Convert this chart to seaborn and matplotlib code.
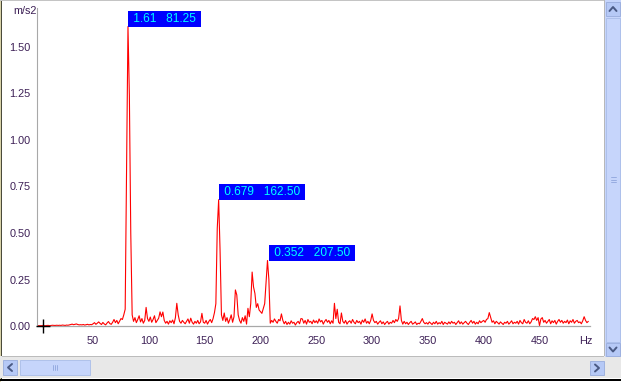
import numpy as np
import matplotlib
matplotlib.use("Agg")
import matplotlib.pyplot as plt
from matplotlib.patches import Rectangle
from matplotlib.lines import Line2D
import seaborn as sns

# spectrum, 1.25 Hz bins starting at 0 Hz (m/s2)
amplitude = [
    0.002, 0.002, 0.002, 0.002, 0.003, 0.002, 0.002, 0.003,
    0.003, 0.002, 0.003, 0.004, 0.003, 0.003, 0.004, 0.003,
    0.004, 0.003, 0.005, 0.004, 0.003, 0.005, 0.004, 0.006,
    0.008, 0.010, 0.007, 0.009, 0.011, 0.008, 0.006, 0.007,
    0.006, 0.008, 0.005, 0.007, 0.009, 0.006, 0.008, 0.007,
    0.012, 0.018, 0.009, 0.015, 0.022, 0.014, 0.008, 0.019,
    0.011, 0.006, 0.016, 0.024, 0.013, 0.009, 0.020, 0.035,
    0.018, 0.030, 0.012, 0.026, 0.040, 0.035, 0.060, 0.090,
    0.850, 1.610, 1.240, 0.500, 0.060, 0.025, 0.045, 0.018,
    0.035, 0.055, 0.022, 0.040, 0.015, 0.030, 0.100, 0.040,
    0.025, 0.048, 0.020, 0.035, 0.055, 0.018, 0.030, 0.042,
    0.076, 0.050, 0.075, 0.030, 0.015, 0.025, 0.010, 0.028,
    0.018, 0.032, 0.012, 0.045, 0.122, 0.060, 0.025, 0.015,
    0.030, 0.020, 0.012, 0.025, 0.038, 0.015, 0.042, 0.020,
    0.010, 0.025, 0.015, 0.030, 0.012, 0.022, 0.068, 0.020,
    0.015, 0.030, 0.010, 0.025, 0.035, 0.018, 0.040, 0.072,
    0.120, 0.525, 0.679, 0.410, 0.060, 0.030, 0.070, 0.025,
    0.045, 0.015, 0.035, 0.060, 0.020, 0.050, 0.194, 0.167,
    0.060, 0.030, 0.015, 0.045, 0.025, 0.055, 0.010, 0.095,
    0.050, 0.120, 0.290, 0.210, 0.175, 0.100, 0.120, 0.086,
    0.077, 0.068, 0.095, 0.120, 0.240, 0.352, 0.250, 0.015,
    0.030, 0.020, 0.038, 0.025, 0.015, 0.035, 0.028, 0.065,
    0.030, 0.012, 0.025, 0.008, 0.020, 0.010, 0.028, 0.015,
    0.020, 0.005, 0.018, 0.025, 0.012, 0.040, 0.038, 0.015,
    0.030, 0.010, 0.035, 0.020, 0.025, 0.012, 0.032, 0.018,
    0.028, 0.015, 0.038, 0.022, 0.030, 0.010, 0.025, 0.035,
    0.020, 0.030, 0.012, 0.028, 0.015, 0.122, 0.040, 0.090,
    0.020, 0.012, 0.070, 0.025, 0.015, 0.030, 0.010, 0.022,
    0.028, 0.015, 0.035, 0.020, 0.012, 0.030, 0.018, 0.025,
    0.010, 0.032, 0.020, 0.038, 0.015, 0.025, 0.012, 0.030,
    0.065, 0.030, 0.018, 0.025, 0.010, 0.020, 0.028, 0.012,
    0.022, 0.008, 0.018, 0.025, 0.010, 0.020, 0.015, 0.030,
    0.018, 0.035, 0.025, 0.040, 0.108, 0.030, 0.010, 0.025,
    0.012, 0.020, 0.008, 0.018, 0.025, 0.010, 0.015, 0.022,
    0.008, 0.015, 0.012, 0.025, 0.040, 0.020, 0.012, 0.018,
    0.010, 0.022, 0.015, 0.008, 0.020, 0.012, 0.025, 0.010,
    0.018, 0.012, 0.025, 0.008, 0.020, 0.015, 0.010, 0.022,
    0.012, 0.025, 0.015, 0.020, 0.008, 0.018, 0.028, 0.012,
    0.022, 0.010, 0.018, 0.025, 0.015, 0.008, 0.020, 0.030,
    0.015, 0.025, 0.010, 0.020, 0.012, 0.028, 0.018, 0.025,
    0.030, 0.020, 0.035, 0.040, 0.072, 0.045, 0.020, 0.028,
    0.012, 0.025, 0.018, 0.010, 0.022, 0.015, 0.008, 0.020,
    0.015, 0.025, 0.010, 0.018, 0.028, 0.012, 0.020, 0.015,
    0.025, 0.010, 0.030, 0.018, 0.012, 0.035, 0.020, 0.015,
    0.028, 0.012, 0.022, 0.040, 0.035, 0.050, 0.030, 0.045,
    0.002, 0.038, 0.045, 0.020, 0.030, 0.015, 0.025, 0.035,
    0.012, 0.028, 0.018, 0.030, 0.010, 0.025, 0.035, 0.020,
    0.030, 0.015, 0.025, 0.018, 0.032, 0.012, 0.028, 0.020,
    0.035, 0.015, 0.025, 0.030, 0.018, 0.022, 0.012, 0.028,
    0.050, 0.030, 0.018, 0.025,
]
bin_width = 1.25
frequency = [i * bin_width for i in range(len(amplitude))]

# peak markers
peak_freqs = [81.25, 162.5, 207.5]
peak_vals = [1.61, 0.679, 0.352]
peak_labels = ["1.61   81.25", "0.679   162.50", "0.352   207.50"]

cursor_freq = 5.0
x_ticks = [50, 100, 150, 200, 250, 300, 350, 400, 450]
y_ticks = [0.0, 0.25, 0.5, 0.75, 1.0, 1.25, 1.5]
x_unit = "Hz"
y_unit = "m/s2"

sns.set_style("white")
plt.rcParams["font.family"] = ["Liberation Sans", "DejaVu Sans"]

W, H = 621, 382
fig = plt.figure(figsize=(W / 100, H / 100), dpi=100)
fig.patch.set_facecolor("white")

label_col = "#3c1f55"
grid_col = "#a8a8a8"


def rect(x, y, w, h, **kw):
    # pixel box (top-left origin) -> figure patch
    fig.patches.append(Rectangle((x / W, 1 - (y + h) / H), w / W, h / H,
                                 transform=fig.transFigure, figure=fig, **kw))


def poly(xs, ys, **kw):
    fig.add_artist(Line2D([v / W for v in xs], [1 - v / H for v in ys],
                          transform=fig.transFigure, **kw))


ax_left, ax_right, ax_bottom, ax_top = 37.3, 590, 326, 8
ax = fig.add_axes([ax_left / W, 1 - ax_bottom / H,
                   (ax_right - ax_left) / W, (ax_bottom - ax_top) / H])
ax.set_facecolor("none")

sns.lineplot(x=frequency, y=amplitude, ax=ax, color="#ff0000", linewidth=0.8)

px_per_hz = 1.116
px_per_unit = 186
ax.set_xlim(0, (ax_right - ax_left) / px_per_hz)
ax.set_ylim(0, (ax_bottom - ax_top) / px_per_unit)

ax.set_xticks(x_ticks)
ax.set_xticklabels([str(t) for t in x_ticks])
ax.set_yticks(y_ticks)
ax.set_yticklabels([f"{t:.2f}" for t in y_ticks])
ax.tick_params(axis="x", length=3, width=0.8, color=grid_col, pad=4,
               labelsize=7.8, labelcolor=label_col, direction="out")
ax.tick_params(axis="y", length=3, width=0.8, color=grid_col, pad=2,
               labelsize=7.8, labelcolor=label_col, direction="out")
ax.set_xlabel("")
ax.set_ylabel("")

for side in ["top", "right"]:
    ax.spines[side].set_visible(False)
ax.spines["bottom"].set_color(grid_col)
ax.spines["bottom"].set_linewidth(0.9)
ax.spines["left"].set_color(grid_col)
ax.spines["left"].set_linewidth(0.8)
ax.spines["left"].set_linestyle((0, (1, 1)))

# cursor cross at origin
ax.plot([cursor_freq], [0], marker="+", color="black", markersize=10,
        markeredgewidth=1.0, clip_on=False, zorder=5)

# peak value tags
for f, v, s in zip(peak_freqs, peak_vals, peak_labels):
    ax.annotate(" " + s + " ", xy=(f, v), xytext=(1.4, 1.4),
                textcoords="offset points", ha="left", va="bottom",
                fontsize=8.6, color="#00ffff", zorder=6,
                bbox=dict(boxstyle="square,pad=0.17", fc="#0000ff", ec="none"))

fig.text(24.5 / W, 1 - 11.5 / H, y_unit, fontsize=7.8, color=label_col,
         ha="center", va="center")
fig.text(586 / W, 1 - 341.5 / H, x_unit, fontsize=7.8, color=label_col,
         ha="center", va="center")

# window frame
rect(0, 0, 1, H, fc="#d8d2a8", ec="none")
rect(1, 0, 1.2, 380, fc="#4a4a3a", ec="none")
rect(0, 0, W, 1.4, fc="#c4c4c4", ec="none")
rect(603.5, 0, 1.3, 357, fc="#b8b8b8", ec="none")

# vertical scrollbar
sb_fc, btn_fc, btn_ec, arrow_col = "#c6d5fb", "#b6c9f6", "#98acdc", "#4a5a84"
rect(605, 0, 16, 357, fc=sb_fc, ec="none")
rect(606, 2, 14, 14, fc=btn_fc, ec=btn_ec, lw=0.6)
rect(606, 18, 14, 324, fc=sb_fc, ec="#a9bde9", lw=0.6)
rect(606, 343, 14, 13, fc=btn_fc, ec=btn_ec, lw=0.6)
poly([609.5, 613, 616.5], [11, 7, 11], color=arrow_col, lw=1.4)
poly([609.5, 613, 616.5], [347.5, 351.5, 347.5], color=arrow_col, lw=1.4)
for gy in [177.5, 179.5, 181.5]:
    poly([611, 616], [gy, gy], color="#8ea4dc", lw=0.6)

# horizontal scrollbar band
rect(0, 356, 605, 22, fc="#e8e8e8", ec="none")
rect(605, 357, 16, 21, fc="#e8e8e8", ec="none")
rect(2, 356, 602, 1, fc="#bcbcbc", ec="none")
rect(3, 360, 14, 15, fc=btn_fc, ec=btn_ec, lw=0.6)
rect(20, 360, 70, 15, fc=sb_fc, ec="#a9bde9", lw=0.6)
rect(590, 361, 14, 14, fc=btn_fc, ec=btn_ec, lw=0.6)
poly([12, 8, 12], [364, 367.5, 371], color=arrow_col, lw=1.4)
poly([595, 599, 595], [364.5, 368, 371.5], color=arrow_col, lw=1.4)
for gx in [52.5, 54.5, 56.5]:
    poly([gx, gx], [365, 370], color="#8ea4dc", lw=0.6)

rect(0, 379, W, 1.8, fc="black", ec="none")

fig.savefig("out.png", dpi=100, facecolor="white")
